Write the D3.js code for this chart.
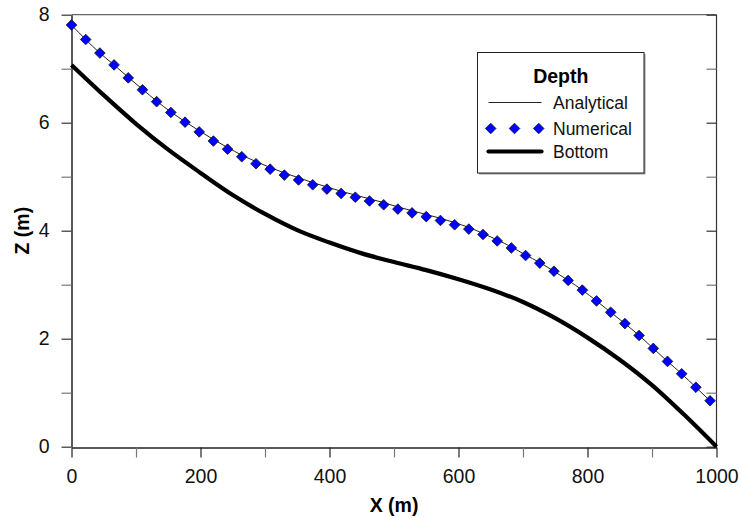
<!DOCTYPE html>
<html>
<head>
<meta charset="utf-8">
<script src="https://cdn.jsdelivr.net/npm/d3@7/dist/d3.min.js"></script>
<style>
  html, body { margin: 0; padding: 0; background: #fff; }
  svg { display: block; font-family: "Liberation Sans", Arial, sans-serif; }
</style>
</head>
<body>
<svg id="chart" width="741" height="519"></svg>
<script>
// Numerical nodes (every 22 m)
const nodeX = d3.range(0, 1000, 22);
const numericalZ = [
  7.81, 7.54, 7.29, 7.07, 6.83, 6.61, 6.39, 6.19, 6.01, 5.83,
  5.66, 5.51, 5.37, 5.24, 5.14, 5.03, 4.94, 4.85, 4.77, 4.69,
  4.62, 4.55, 4.48, 4.40, 4.33, 4.26, 4.19, 4.11, 4.03, 3.93,
  3.81, 3.68, 3.54, 3.40, 3.25, 3.08, 2.90, 2.70, 2.49, 2.28,
  2.06, 1.82, 1.58, 1.35, 1.10, 0.85
];
// Analytical surface at the same nodes
const analyticalZ = [
  7.81, 7.54, 7.29, 7.07, 6.84, 6.62, 6.40, 6.20, 6.02, 5.85,
  5.69, 5.54, 5.40, 5.28, 5.17, 5.07, 4.98, 4.89, 4.81, 4.73,
  4.66, 4.59, 4.52, 4.44, 4.37, 4.30, 4.23, 4.15, 4.06, 3.95,
  3.83, 3.70, 3.55, 3.41, 3.25, 3.08, 2.90, 2.70, 2.49, 2.28,
  2.06, 1.82, 1.58, 1.35, 1.10, 0.85
];
// Channel bottom profile
const bottomX = [0, 50, 100, 150, 200, 250, 300, 350, 400, 450, 500,
                 550, 600, 650, 700, 750, 800, 850, 900, 950, 1000];
const bottomZ = [7.07, 6.51, 5.98, 5.50, 5.07, 4.66, 4.31, 4.01, 3.78, 3.58, 3.42,
                 3.27, 3.10, 2.91, 2.68, 2.38, 2.02, 1.61, 1.14, 0.59, 0.0];

const xTicks = d3.range(0, 1001, 100);
const yTicks = d3.range(0, 9, 1);
const legendTitle = "Depth";
const seriesNames = ["Analytical", "Numerical", "Bottom"];

const svg = d3.select("#chart");
const plotL = 71.5, plotR = 716.5, plotT = 14.7, plotB = 446.7;

const x = d3.scaleLinear().domain([0, 1000]).range([plotL, plotR]);
const y = d3.scaleLinear().domain([0, 8]).range([plotB, plotT]);

// Frame
svg.append("line").attr("x1", plotL).attr("x2", plotR).attr("y1", plotT).attr("y2", plotT)
  .attr("stroke", "#666").attr("stroke-width", 1.2);
svg.append("line").attr("x1", plotR).attr("x2", plotR).attr("y1", plotT).attr("y2", plotB + 1)
  .attr("stroke", "#333").attr("stroke-width", 1.2);

// Left axis
const yAxis = d3.axisLeft(y).tickValues(yTicks).tickSize(10).tickSizeOuter(0)
  .tickPadding(12).tickFormat(d => d % 2 === 0 ? d : "");
const gy = svg.append("g").attr("transform", `translate(${plotL},0)`).call(yAxis);
gy.select(".domain").attr("stroke", "#000").attr("stroke-width", 1.3);
gy.selectAll(".tick line").attr("stroke", d => d % 2 === 0 ? "#333" : "#777").attr("stroke-width", 1.2);
gy.selectAll(".tick text").attr("font-size", 19.5).attr("fill", "#111")
  .attr("font-family", "Liberation Sans, Arial, sans-serif");

// Right axis, ticks inward
const yAxisR = d3.axisLeft(y).tickValues(yTicks).tickSize(10).tickSizeOuter(0).tickFormat("");
const gyr = svg.append("g").attr("transform", `translate(${plotR},0)`).call(yAxisR);
gyr.select(".domain").remove();
gyr.selectAll(".tick line").attr("stroke", d => d % 2 === 0 ? "#333" : "#777").attr("stroke-width", 1.2);

// Bottom axis
const xAxis = d3.axisBottom(x).tickValues(xTicks).tickSize(10).tickSizeOuter(0)
  .tickPadding(12).tickFormat(d => d % 200 === 0 ? d : "");
const gx = svg.append("g").attr("transform", `translate(0,${plotB + 0.8})`).call(xAxis);
gx.select(".domain").attr("stroke", "#222").attr("stroke-width", 1.3);
gx.selectAll(".tick line").attr("stroke", d => d % 200 === 0 ? "#222" : "#777").attr("stroke-width", 1.2);
gx.selectAll(".tick text").attr("font-size", 19.5).attr("fill", "#111")
  .attr("font-family", "Liberation Sans, Arial, sans-serif");

// Axis titles
svg.append("text").attr("x", (plotL + plotR) / 2).attr("y", 512)
  .attr("text-anchor", "middle").attr("font-size", 19.5).attr("font-weight", "bold")
  .text("X (m)");
svg.append("text").attr("transform", `translate(29,${(plotT + plotB) / 2}) rotate(-90)`)
  .attr("text-anchor", "middle").attr("font-size", 19.5).attr("font-weight", "bold")
  .text("Z (m)");

// Bottom profile
const bottomData = bottomX.map((d, i) => [d, bottomZ[i]]);
svg.append("path").datum(bottomData)
  .attr("fill", "none").attr("stroke", "#000").attr("stroke-width", 4.2)
  .attr("d", d3.line().x(d => x(d[0])).y(d => y(d[1])).curve(d3.curveMonotoneX));

// Analytical surface
const anaData = nodeX.map((d, i) => [d, analyticalZ[i]]);
svg.append("path").datum(anaData)
  .attr("fill", "none").attr("stroke", "#222").attr("stroke-width", 1)
  .attr("d", d3.line().x(d => x(d[0])).y(d => y(d[1])).curve(d3.curveMonotoneX));

// Numerical surface markers
const diamond = d3.symbol().type(d3.symbolDiamond2).size(72);
const numData = nodeX.map((d, i) => [d, numericalZ[i]]);
svg.append("g").selectAll("path").data(numData).join("path")
  .attr("transform", d => `translate(${x(d[0])},${y(d[1])})`)
  .attr("d", diamond)
  .attr("fill", "#0000ff").attr("stroke", "#111").attr("stroke-width", 0.8);

// Legend
const lg = svg.append("g");
const lx0 = 477.5, ly0 = 52.5, lw = 166.5, lh = 120.5;
lg.append("rect").attr("x", lx0 + 1.5).attr("y", ly0 + 1.5).attr("width", lw).attr("height", lh)
  .attr("fill", "#999");
lg.append("rect").attr("x", lx0).attr("y", ly0).attr("width", lw).attr("height", lh)
  .attr("fill", "#fff").attr("stroke", "#222").attr("stroke-width", 1);
lg.append("text").attr("x", lx0 + lw / 2).attr("y", 83).attr("text-anchor", "middle")
  .attr("font-size", 19.5).attr("font-weight", "bold").text(legendTitle);

const rowY = [102.5, 128.5, 151.5];
const sx1 = 488.5, sx2 = 541.5, tx = 553;
lg.append("line").attr("x1", sx1).attr("x2", sx2).attr("y1", rowY[0]).attr("y2", rowY[0])
  .attr("stroke", "#222").attr("stroke-width", 1);
[490.7, 514.5, 538.7].forEach(px => {
  lg.append("path").attr("transform", `translate(${px},${rowY[1]})`).attr("d", diamond)
    .attr("fill", "#0000ff").attr("stroke", "#111").attr("stroke-width", 0.8);
});
lg.append("line").attr("x1", sx1).attr("x2", sx2).attr("y1", rowY[2]).attr("y2", rowY[2])
  .attr("stroke", "#000").attr("stroke-width", 4.2).attr("stroke-linecap", "round");
seriesNames.forEach((name, i) => {
  lg.append("text").attr("x", tx).attr("y", rowY[i]).attr("dy", "0.35em")
    .attr("font-size", 17.5).attr("fill", "#111").text(name);
});
</script>
</body>
</html>
